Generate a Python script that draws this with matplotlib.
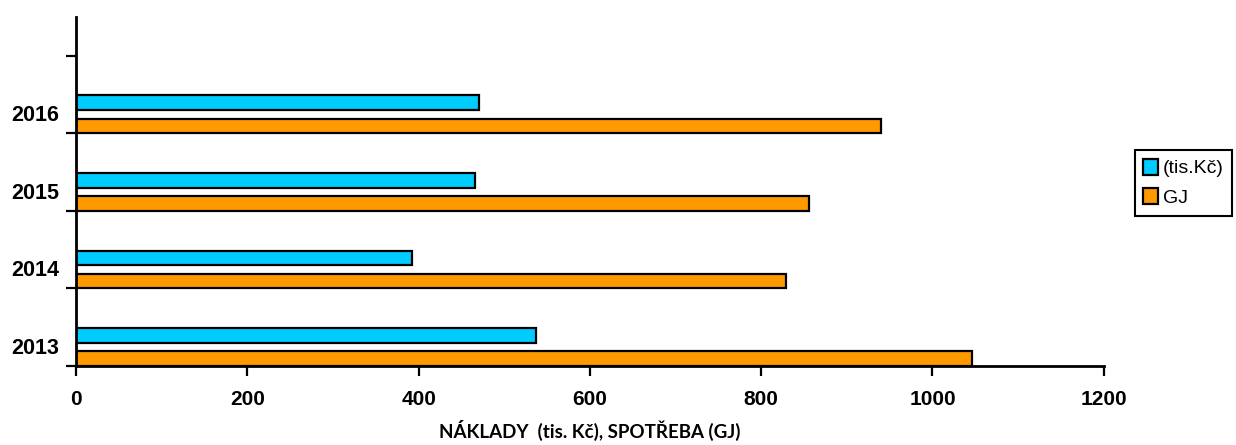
import numpy as np
import matplotlib
matplotlib.use("Agg")
import matplotlib.pyplot as plt
from matplotlib.patches import Patch

# hodnoty
roky = ["2013", "2014", "2015", "2016"]
naklady = [537, 392, 466, 471]      # tis. Kc
spotreba = [1046, 829, 856, 940]    # GJ
x_ticks = [0, 200, 400, 600, 800, 1000, 1200]

plt.rcParams['font.family'] = ['Liberation Sans', 'DejaVu Sans']

fig = plt.figure(figsize=(12.36, 4.45), dpi=100)
ax = fig.add_axes([0.0615, 0.1775, 0.8315, 0.7845])

pos = np.arange(len(roky))
h = 0.19
gap = 0.108
ax.barh(pos, spotreba, height=h, align='edge', color='#FF9900',
        edgecolor='black', linewidth=1.6, label='GJ')
ax.barh(pos + h + gap, naklady, height=h, align='edge', color='#00CCFF',
        edgecolor='black', linewidth=1.6, label='(tis.Kč)')

ax.set_xlim(0, 1200)
ax.set_ylim(0, 4.5)
ax.set_xticks(x_ticks)
ax.set_xticklabels([str(v) for v in x_ticks], fontsize=15, fontweight='bold')

# hranice kategorii jako hlavni ticky, popisky roku jako vedlejsi
ax.set_yticks(np.arange(0, 5))
ax.set_yticklabels([])
ax.set_yticks(pos + 0.26, minor=True)
ax.set_yticklabels(roky, minor=True, fontsize=15.5, fontweight='bold')
ax.tick_params(axis='y', which='minor', length=0, pad=12)
ax.tick_params(axis='y', which='major', length=7, width=1.6)
ax.tick_params(axis='x', length=7, width=1.6, pad=10)

for s in ['top', 'right']:
    ax.spines[s].set_visible(False)
for s in ['left', 'bottom']:
    ax.spines[s].set_linewidth(2)

ax.set_xlabel("NÁKLADY  (tis. Kč), SPOTŘEBA (GJ)", fontsize=13.5,
              fontweight='bold', family=['Lato', 'DejaVu Sans'], labelpad=8)

handles = [Patch(facecolor='#00CCFF', edgecolor='black', linewidth=1.6),
           Patch(facecolor='#FF9900', edgecolor='black', linewidth=1.6)]
leg = fig.legend(handles, ['(tis.Kč)', 'GJ'], loc='upper left',
                 bbox_to_anchor=(0.918, 0.663), fontsize=14, fancybox=False,
                 edgecolor='black', framealpha=1, handlelength=0.75,
                 handleheight=0.9, handletextpad=0.25, borderpad=0.45,
                 labelspacing=0.55, borderaxespad=0)
leg.get_frame().set_linewidth(1.5)

fig.savefig("out.png", dpi=100)
